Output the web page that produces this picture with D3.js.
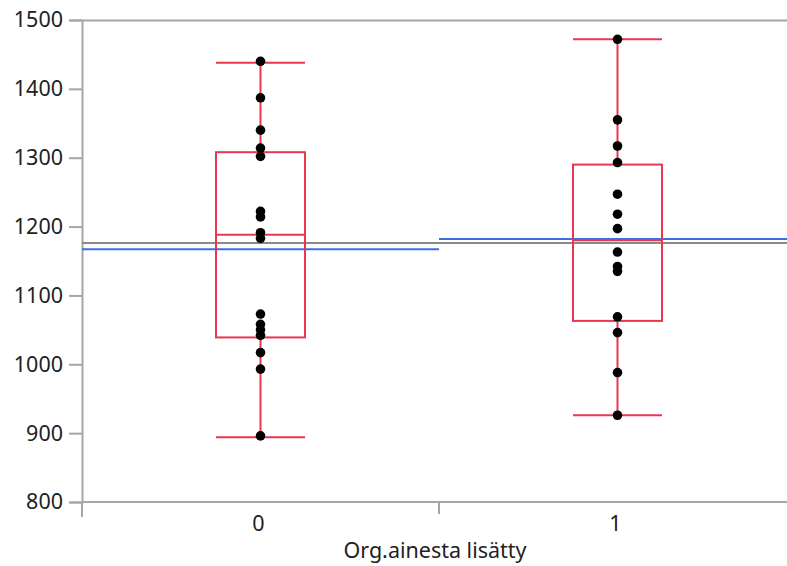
<!DOCTYPE html>
<html>
<head>
<meta charset="utf-8">
<script src="https://cdn.jsdelivr.net/npm/d3@7"></script>
<style>
  html, body { margin: 0; padding: 0; background: #ffffff; }
  svg { display: block; }
  text { font-family: "Segoe UI", "Noto Sans", "Open Sans", sans-serif; fill: #222; }
</style>
</head>
<body>
<svg id="chart" width="787" height="566"></svg>
<script>
// ---- data ----
const categories = ["0", "1"];
const points0 = [1440, 1387, 1340, 1314, 1302, 1222, 1214, 1191, 1183, 1058, 1050, 1042, 1017, 993, 896, 1073];
const points1 = [1472, 1355, 1317, 1293, 1247, 1218, 1197, 1163, 1142, 1135, 1069, 1046, 988, 926];
const whiskerLow  = [894, 926];
const boxQ1       = [1039, 1063];
const boxMedian   = [1188, 1180];
const boxQ3       = [1308, 1290];
const whiskerHigh = [1438, 1472];
const groupMeans  = [1167, 1182];
const grandMean   = 1176;
const yTicks = [800, 900, 1000, 1100, 1200, 1300, 1400, 1500];
const xTitle = "Org.ainesta lisätty";

(function () {
const groups = categories.map((c, i) => ({
  cat: c,
  pts: i === 0 ? points0 : points1,
  lo: whiskerLow[i], q1: boxQ1[i], med: boxMedian[i], q3: boxQ3[i], hi: whiskerHigh[i],
  mean: groupMeans[i]
}));

// ---- layout ----
const svg = d3.select("#chart");
const mLeft = 82, mRight = 796, mTop = 20, mBottom = 502;

const y = d3.scaleLinear().domain([800, 1500]).range([mBottom, mTop]);
const x = d3.scaleBand().domain(categories).range([mLeft, mRight]).padding(0);

const axisColor = "#a6a6a6";
const red = "#e8374f";
const blue = "#3b6fe0";

// top frame
svg.append("line").attr("x1", mLeft).attr("x2", mRight).attr("y1", mTop + 0.5).attr("y2", mTop + 0.5)
  .attr("stroke", axisColor).attr("stroke-width", 2);

// y axis
const yAxis = d3.axisLeft(y).tickValues(yTicks).tickSize(13).tickPadding(6).tickFormat(d3.format("d"));
const gy = svg.append("g").attr("transform", `translate(${mLeft},0)`).call(yAxis);
gy.select(".domain").attr("stroke", axisColor).attr("stroke-width", 2);
gy.selectAll(".tick line").attr("stroke", axisColor).attr("stroke-width", 2);
gy.selectAll(".tick text").style("font-size", "21.5px").attr("fill", "#222");

// x axis: boundaries between bands as ticks, labels at centres
const gx = svg.append("g").attr("transform", `translate(0,${mBottom})`);
gx.append("line").attr("x1", mLeft).attr("x2", mRight).attr("stroke", axisColor).attr("stroke-width", 2);
const bounds = [x.range()[0], x(categories[1])];
gx.selectAll("line.bt").data(bounds).enter().append("line").attr("class", "bt")
  .attr("x1", d => d).attr("x2", d => d).attr("y1", 0).attr("y2", (d, i) => i === 0 ? 15 : 12)
  .attr("stroke", axisColor).attr("stroke-width", 2);
gx.selectAll("text.xl").data(categories).enter().append("text").attr("class", "xl")
  .attr("x", d => x(d) + x.bandwidth() / 2 - 2).attr("y", 29)
  .attr("text-anchor", "middle").style("font-size", "21.5px").text(d => d);

svg.append("text").attr("x", 435).attr("y", 558).attr("text-anchor", "middle")
  .style("font-size", "21.5px").text(xTitle);

// grand mean line
svg.append("line").attr("x1", mLeft).attr("x2", mRight).attr("y1", y(grandMean)).attr("y2", y(grandMean))
  .attr("stroke", "#8a8a8a").attr("stroke-width", 2);

// group mean lines
svg.selectAll("line.mean").data(groups).enter().append("line").attr("class", "mean")
  .attr("x1", d => x(d.cat)).attr("x2", d => x(d.cat) + x.bandwidth())
  .attr("y1", d => y(d.mean)).attr("y2", d => y(d.mean))
  .attr("stroke", blue).attr("stroke-width", 2);

// box plots
const boxW = 89;
const gb = svg.selectAll("g.box").data(groups).enter().append("g").attr("class", "box")
  .attr("transform", d => `translate(${x(d.cat) + x.bandwidth() / 2},0)`);

gb.append("line").attr("x1", 0).attr("x2", 0).attr("y1", d => y(d.hi)).attr("y2", d => y(d.q3))
  .attr("stroke", red).attr("stroke-width", 2);
gb.append("line").attr("x1", 0).attr("x2", 0).attr("y1", d => y(d.q1)).attr("y2", d => y(d.lo))
  .attr("stroke", red).attr("stroke-width", 2);
gb.append("rect").attr("x", -boxW / 2).attr("width", boxW)
  .attr("y", d => y(d.q3)).attr("height", d => y(d.q1) - y(d.q3))
  .attr("fill", "none").attr("stroke", red).attr("stroke-width", 2);
gb.append("line").attr("x1", -boxW / 2).attr("x2", boxW / 2).attr("y1", d => y(d.med)).attr("y2", d => y(d.med))
  .attr("stroke", red).attr("stroke-width", 2);
gb.append("line").attr("x1", -boxW / 2).attr("x2", boxW / 2).attr("y1", d => y(d.hi)).attr("y2", d => y(d.hi))
  .attr("stroke", red).attr("stroke-width", 2);
gb.append("line").attr("x1", -boxW / 2).attr("x2", boxW / 2).attr("y1", d => y(d.lo)).attr("y2", d => y(d.lo))
  .attr("stroke", red).attr("stroke-width", 2);

// points
gb.selectAll("circle").data(d => d.pts).enter().append("circle")
  .attr("cx", 0).attr("cy", d => y(d)).attr("r", 4.8).attr("fill", "#000");
})();
</script>
</body>
</html>
